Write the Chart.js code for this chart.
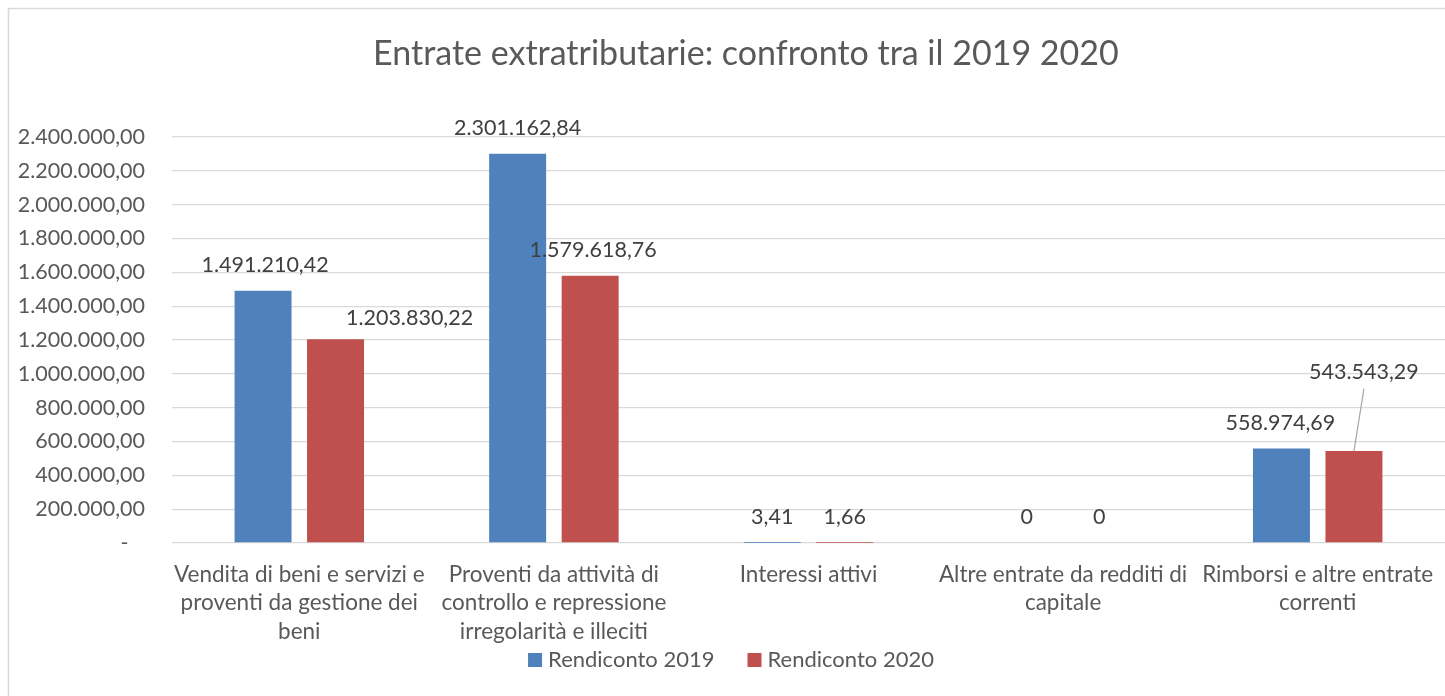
<!DOCTYPE html>
<html>
<head>
<meta charset="utf-8">
<title>Entrate extratributarie</title>
<script src="https://cdn.jsdelivr.net/npm/chart.js@4.4.0/dist/chart.umd.min.js"></script>
<style>
  html, body { margin: 0; padding: 0; background: #fff; overflow: hidden; }
  #wrap { position: relative; width: 1445px; height: 696px; }
</style>
</head>
<body>
<div id="wrap"><canvas id="entrateChart"></canvas></div>
<script>
// Chart data
const categories = [
  ["Vendita di beni e servizi e", "proventi da gestione dei", "beni"],
  ["Proventi da attività di", "controllo e repressione", "irregolarità e illeciti"],
  ["Interessi attivi"],
  ["Altre entrate da redditi di", "capitale"],
  ["Rimborsi e altre entrate", "correnti"]
];
const seriesNames = ["Rendiconto 2019", "Rendiconto 2020"];
const seriesColors = ["#4f81bd", "#c0504d"];
const rendiconto2019 = [1491210.42, 2301162.84, 3.41, 0, 558974.69];
const rendiconto2020 = [1203830.22, 1579618.76, 1.66, 0, 543543.29];
const yMin = 0;
const yMax = 2400000;
const yStep = 200000;

// Label nudges (dx, dy) in px, like the manual moves done in Excel
const labelNudges = [
  [[2, 0], [0, 0], [0, 0], [0, 0], [-1, 0]],
  [[74, 4.5], [3, 0], [0, 0], [0, 0], [10, -53]]
];

const FONT = "Lato";
const TEXT_COLOR = "#595959";
const GRID_COLOR = "#d9d9d9";

// Italian number format: 2.400.000,00
function formatIt(v) {
  const parts = v.toFixed(2).split(".");
  const intPart = parts[0].replace(/\B(?=(\d{3})+(?!\d))/g, ".");
  return intPart + "," + parts[1];
}

// White background and the light frame around the chart
const framePlugin = {
  id: "frame",
  beforeDraw(chart) {
    const ctx = chart.ctx;
    ctx.save();
    ctx.fillStyle = "#ffffff";
    ctx.fillRect(0, 0, chart.width, chart.height);
    ctx.strokeStyle = GRID_COLOR;
    ctx.lineWidth = 1.5;
    ctx.strokeRect(8.5, 8.5, chart.width + 10, chart.height + 10);
    ctx.restore();
  }
};

// Value labels above each bar
const valueLabelPlugin = {
  id: "valueLabels",
  afterDatasetsDraw(chart) {
    const ctx = chart.ctx;
    ctx.save();
    ctx.font = "21.5px " + FONT;
    ctx.fillStyle = "#404040";
    ctx.textAlign = "center";
    ctx.textBaseline = "middle";
    chart.data.datasets.forEach((ds, di) => {
      const meta = chart.getDatasetMeta(di);
      meta.data.forEach((bar, i) => {
        const v = ds.data[i];
        const text = v === 0 ? "0" : formatIt(v);
        const nudge = labelNudges[di][i];
        const x = bar.x + nudge[0];
        const y = bar.y - 25.5 + nudge[1];
        ctx.fillText(text, x, y);
        // leader line when the label was moved far away
        if (Math.abs(nudge[1]) > 30) {
          ctx.strokeStyle = "#a6a6a6";
          ctx.lineWidth = 1.2;
          ctx.beginPath();
          ctx.moveTo(x, y + 16);
          ctx.lineTo(bar.x, bar.y);
          ctx.stroke();
        }
      });
    });
    ctx.restore();
  }
};

// Legend under the axis labels (drawn here so the 3-line labels are not clipped)
const legendPlugin = {
  id: "bottomLegend",
  afterDraw(chart) {
    const ctx = chart.ctx;
    const box = 14;
    const gap = 6;
    const spacing = 33;
    const centerX = 731;
    const centerY = 660;
    ctx.save();
    ctx.font = "22px " + FONT;
    ctx.textBaseline = "middle";
    ctx.textAlign = "left";
    const widths = seriesNames.map((n) => ctx.measureText(n).width);
    let total = 0;
    widths.forEach((w, i) => {
      total += box + gap + w + (i < widths.length - 1 ? spacing : 0);
    });
    let x = centerX - total / 2;
    seriesNames.forEach((name, i) => {
      ctx.fillStyle = seriesColors[i];
      ctx.fillRect(x, centerY - box / 2, box, box);
      x += box + gap;
      ctx.fillStyle = TEXT_COLOR;
      ctx.fillText(name, x, centerY);
      x += widths[i] + spacing;
    });
    ctx.restore();
  }
};

const ctx = document.getElementById("entrateChart").getContext("2d");
const chart = new Chart(ctx, {
  type: "bar",
  data: {
    labels: categories,
    datasets: [
      {
        label: seriesNames[0],
        data: rendiconto2019,
        backgroundColor: seriesColors[0],
        categoryPercentage: 0.5695,
        barPercentage: 0.786,
        inflateAmount: 0
      },
      {
        label: seriesNames[1],
        data: rendiconto2020,
        backgroundColor: seriesColors[1],
        categoryPercentage: 0.5695,
        barPercentage: 0.786,
        inflateAmount: 0
      }
    ]
  },
  options: {
    responsive: true,
    maintainAspectRatio: false,
    animation: false,
    layout: {
      padding: { left: 12, right: 0, top: 0, bottom: 50 }
    },
    scales: {
      x: {
        // tick marks hidden, tickLength only spaces the labels down
        grid: { display: false, drawTicks: true, tickLength: 17 },
        border: { display: false },
        ticks: {
          color: TEXT_COLOR,
          font: { family: FONT, size: 22.5, lineHeight: "28.5px" },
          padding: 0,
          maxRotation: 0,
          autoSkip: false
        },
        afterFit(scale) {
          scale.height = 103;
        }
      },
      y: {
        min: yMin,
        max: yMax,
        grid: { color: GRID_COLOR, lineWidth: 1.3, drawTicks: false },
        border: { display: false },
        ticks: {
          stepSize: yStep,
          color: TEXT_COLOR,
          font: { family: FONT, size: 21.5 },
          padding: 27,
          callback: (v) => (v === 0 ? "-   " : formatIt(v))
        },
        afterFit(scale) {
          scale.width = 160;
        }
      }
    },
    plugins: {
      title: {
        display: true,
        // leading spaces push the centred title a little right, as in the original
        text: "    Entrate extratributarie: confronto tra il 2019 2020",
        color: TEXT_COLOR,
        font: { family: FONT, size: 34, weight: "normal", lineHeight: "40px" },
        padding: { top: 34, bottom: 63 }
      },
      legend: { display: false },
      tooltip: { enabled: false }
    }
  },
  plugins: [framePlugin, valueLabelPlugin, legendPlugin]
});
</script>
</body>
</html>
